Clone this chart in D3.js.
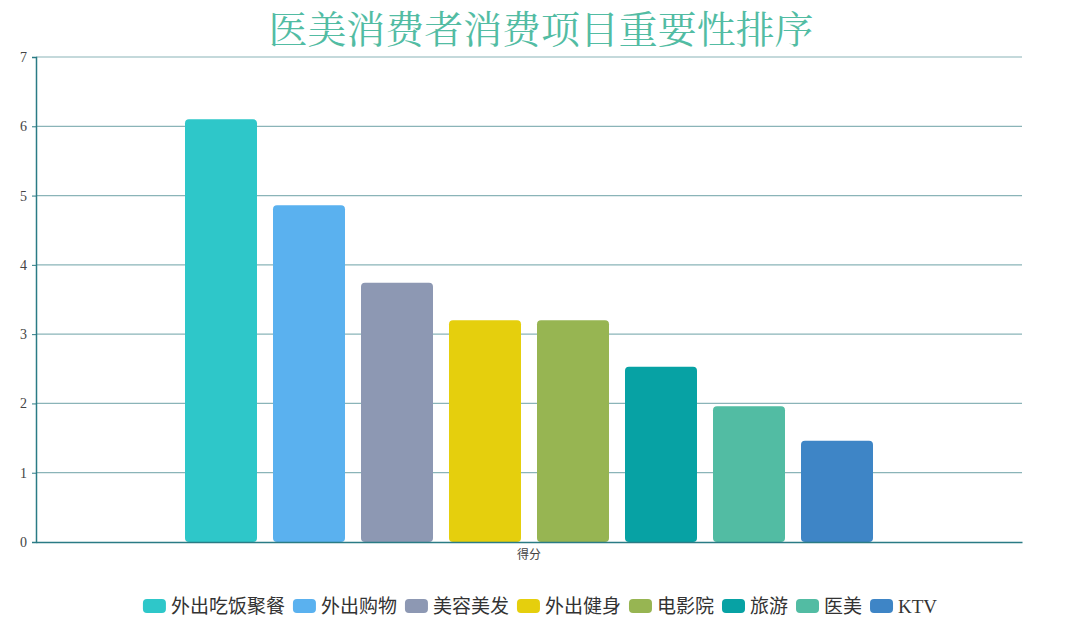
<!DOCTYPE html>
<html><head><meta charset="utf-8">
<script src="https://cdn.jsdelivr.net/npm/d3@7"></script>
<style>body{margin:0;background:#fff;}svg{display:block;}</style>
</head><body>
<svg id="c" width="1080" height="620"></svg>
<script>
const categories = ["得分"];
const seriesNames = ["外出吃饭聚餐","外出购物","美容美发","外出健身","电影院","旅游","医美","KTV"];
const seriesValues = [6.1, 4.86, 3.74, 3.2, 3.2, 2.53, 1.96, 1.46];
const seriesColors = ["#2ec7c9","#5ab1ef","#8d98b3","#e5cf0d","#97b552","#07a2a4","#52bca3","#3e85c6"];
const yTicks = [0,1,2,3,4,5,6,7];
const title = "医美消费者消费项目重要性排序";

const svg = d3.select("#c");
const m = {l:36, r:1022, t:57, b:542};
const y = d3.scaleLinear().domain([0,7]).range([m.b, m.t]);
const x0 = d3.scaleBand().domain(categories).range([m.l, m.r]);
const x1 = d3.scaleBand().domain(seriesNames).range([185, 873]).paddingInner(16/88).paddingOuter(0);

svg.append("text").attr("x",541).attr("y",43).attr("text-anchor","middle")
  .attr("font-family","'Noto Serif CJK SC','Noto Sans CJK SC',serif").attr("font-size",38)
  .attr("textLength",545).attr("lengthAdjust","spacingAndGlyphs")
  .attr("fill","#52bca3").text(title);

// grid
svg.append("g").selectAll("line").data(yTicks.filter(d=>d>0)).join("line")
  .attr("x1",m.l).attr("x2",m.r).attr("y1",d=>y(d)).attr("y2",d=>y(d))
  .attr("stroke","#8ab4b8").attr("stroke-width",1.2);

// bars
svg.append("g").selectAll("rect").data(seriesNames).join("rect")
  .attr("x",d=>x1(d)).attr("width",x1.bandwidth())
  .attr("y",(d,i)=>y(seriesValues[i])).attr("height",(d,i)=>y(0)-y(seriesValues[i]))
  .attr("rx",4).attr("fill",(d,i)=>seriesColors[i]);

// y axis
const ya = svg.append("g").attr("transform",`translate(${m.l},0)`)
  .call(d3.axisLeft(y).tickValues(yTicks).tickFormat(d3.format("d")).tickSize(4).tickPadding(5));
ya.select(".domain").attr("stroke","#2a7b85").attr("stroke-width",1.5);
ya.selectAll(".tick line").attr("stroke","#2a7b85");
ya.selectAll(".tick text").attr("fill","#444").attr("font-size",14).attr("font-family","'Liberation Serif',serif");

// x axis
const xa = svg.append("g").attr("transform",`translate(0,${m.b})`)
  .call(d3.axisBottom(x0).tickSize(0).tickPadding(8));
xa.select(".domain").attr("stroke","#2a7b85").attr("stroke-width",1.5);
xa.selectAll(".tick text").attr("fill","#444").attr("font-size",12).attr("font-family","'Noto Sans CJK SC',sans-serif");

// legend
const lg = svg.append("g");
const items = lg.selectAll("g").data(seriesNames).join("g");
items.append("rect").attr("width",23).attr("height",14).attr("rx",4).attr("y",-7)
  .attr("fill",(d,i)=>seriesColors[i]);
items.append("text").attr("x",28).attr("y",0).attr("dy","0.35em")
  .attr("font-size",19).attr("fill","#333")
  .attr("font-family","'Liberation Serif','Noto Sans CJK SC',serif").text(d=>d);
let pos = 0; const offs=[];
items.each(function(){ const w = this.querySelector("text").getComputedTextLength(); offs.push(pos); pos += 28 + w + 8; });
const total = pos - 8;
const start = 540 - total/2;
items.attr("transform",(d,i)=>`translate(${start+offs[i]},606)`);
</script>
</body></html>
